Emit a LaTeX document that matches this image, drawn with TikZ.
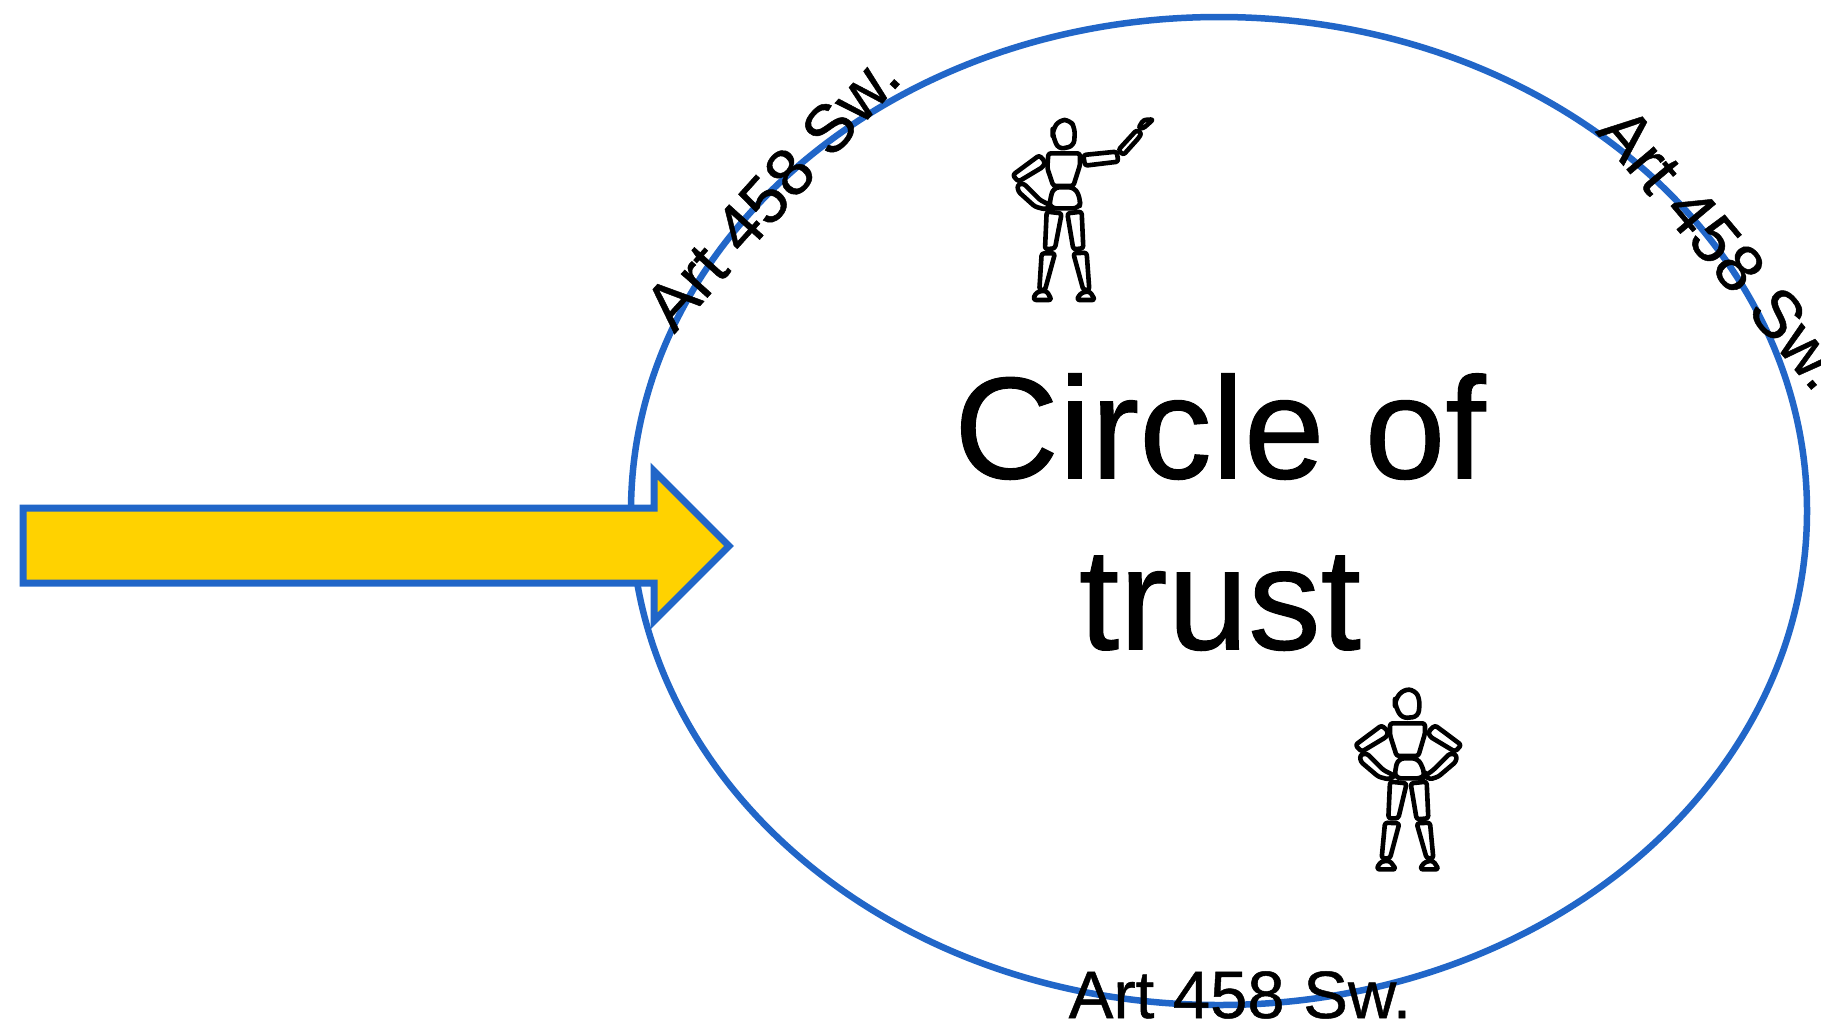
\documentclass[tikz,border=0pt]{standalone}
\usepackage{fontspec}
\setmainfont[FakeBold=0.7]{Liberation Sans}
\definecolor{ringblue}{HTML}{2166C8}
\definecolor{arrowgold}{HTML}{FFD200}
\tikzset{
  x=1pt,y=-1pt,
  ring/.style={draw=ringblue,line width=6.5pt},
  bigarrow/.style={draw=ringblue,fill=arrowgold,line width=7pt,miter limit=10},
  limb/.style={draw=black,line width=4.6pt,rounded corners=2.6pt,line join=round},
  roundlimb/.style={draw=black,line width=4.6pt,rounded corners=6pt,line join=round},
  zoomed/.style={x=0.3333pt,y=-0.3333pt},
  lawlabel/.style={font=\fontsize{67}{70}\selectfont,inner sep=0pt,anchor=base,text=black},
  titlelabel/.style={font=\fontsize{145}{171}\selectfont,align=center,inner sep=0pt,text=black},
}
\begin{document}
\begin{tikzpicture}
\useasboundingbox (0,0) rectangle (1821,1021);
\fill[white] (0,0) rectangle (1821,1021);
% circle of trust
\draw[ring] (1219,511) ellipse [x radius=588, y radius=494];
% arrow
\draw[bigarrow] (23,508) -- (654,508) -- (654,471) -- (729,546) -- (654,621) -- (654,583) -- (23,583) -- cycle;
% figure pointing
\begin{scope}[shift={(990,100)},zoomed]
  \draw[roundlimb] (188,90) -- (208,60) -- (240,60) -- (255,85) -- (252,138) -- (205,148) -- (188,105) -- cycle;
  \draw[limb] (175,160) -- (270,160) -- (270,195) -- (250,258) -- (190,258) -- (172,205) -- cycle;
  \draw[roundlimb] (190,262) -- (255,262) -- (272,300) -- (268,325) -- (180,325) -- (178,310) -- cycle;
  \draw[limb] (68,225) -- (148,166) -- (165,185) -- (160,200) -- (85,245) -- cycle;
  \draw[limb] (82,255) -- (100,250) -- (150,300) -- (185,318) -- (165,328) -- (135,320) -- (85,275) -- cycle;
  \draw[limb] (280,165) -- (380,155) -- (385,185) -- (285,197) -- cycle;
  \draw[limb] (385,150) -- (440,90) -- (455,100) -- (445,115) -- (400,165) -- cycle;
  \draw[limb] (445,85) -- (460,60) -- (490,58) -- (460,85) -- cycle;
  \draw[limb] (170,335) -- (215,340) -- (195,445) -- (165,448) -- cycle;
  \draw[limb] (232,340) -- (275,335) -- (280,445) -- (250,448) -- cycle;
  \draw[limb] (155,460) -- (195,460) -- (165,570) -- (148,570) -- cycle;
  \draw[limb] (250,460) -- (290,458) -- (298,570) -- (280,570) -- cycle;
  \draw[limb] (130,600) -- (135,582) -- (150,573) -- (170,573) -- (185,600) -- cycle;
  \draw[limb] (260,600) -- (270,582) -- (285,575) -- (300,575) -- (315,600) -- cycle;
\end{scope}
% figure hands on hips
\begin{scope}[shift={(1340,670)},zoomed]
  \draw[roundlimb] (165,90) -- (190,58) -- (225,60) -- (240,90) -- (235,140) -- (185,145) -- (165,105) -- cycle;
  \draw[limb] (150,160) -- (255,160) -- (255,190) -- (235,258) -- (170,258) -- (150,195) -- cycle;
  \draw[roundlimb] (175,265) -- (235,265) -- (255,310) -- (250,325) -- (165,325) -- (165,300) -- cycle;
  \draw[limb] (46,225) -- (125,166) -- (145,185) -- (140,200) -- (65,245) -- cycle;
  \draw[limb] (364,225) -- (285,166) -- (265,185) -- (270,200) -- (345,245) -- cycle;
  \draw[limb] (60,255) -- (80,250) -- (130,300) -- (165,318) -- (145,328) -- (115,320) -- (62,275) -- cycle;
  \draw[limb] (350,255) -- (330,250) -- (280,300) -- (255,318) -- (270,328) -- (295,320) -- (348,275) -- cycle;
  \draw[limb] (150,335) -- (200,340) -- (175,445) -- (145,445) -- cycle;
  \draw[limb] (212,340) -- (260,335) -- (265,445) -- (230,448) -- cycle;
  \draw[limb] (135,458) -- (178,460) -- (150,565) -- (125,565) -- cycle;
  \draw[limb] (230,460) -- (270,458) -- (280,565) -- (260,565) -- cycle;
  \draw[limb] (110,598) -- (118,580) -- (130,573) -- (150,573) -- (168,598) -- cycle;
  \draw[limb] (240,598) -- (250,580) -- (265,573) -- (280,573) -- (296,598) -- cycle;
\end{scope}
% texts
\node[titlelabel] (title) at (1220,512) {Circle of\\trust};
\node[lawlabel,rotate=48] (lawleft) at (789,207) {Art 458 Sw.};
\node[lawlabel,rotate=-50] (lawright) at (1705,263) {Art 458 Sw.};
\node[lawlabel] (lawbottom) at (1240,1018) {Art 458 Sw.};
\end{tikzpicture}
\end{document}
